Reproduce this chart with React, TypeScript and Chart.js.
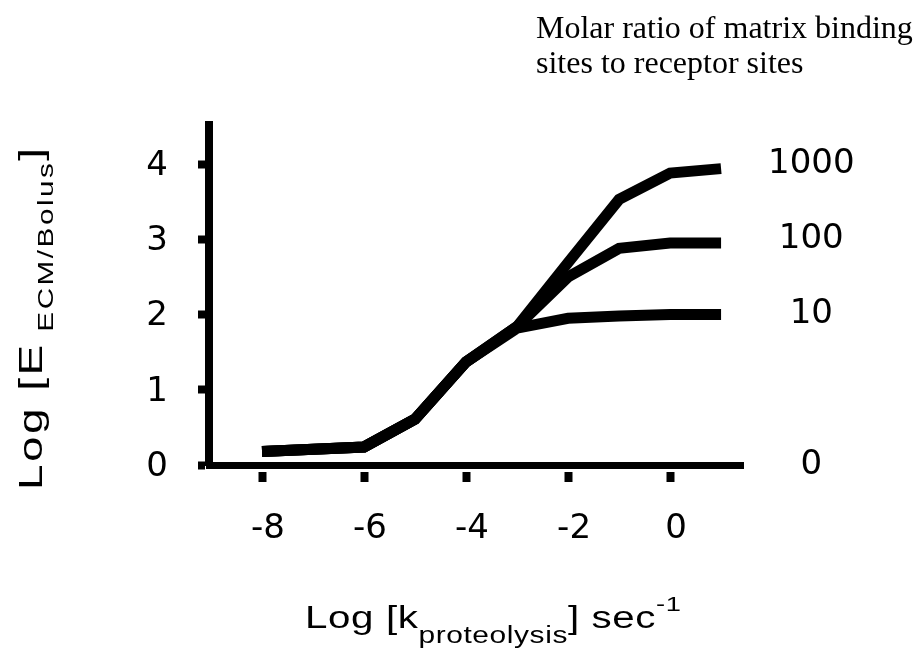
import React, { useEffect, useRef } from "react";
import { Chart, registerables } from "chart.js";

Chart.register(...registerables);

// ---- data ----
const X_VALUES = [-8, -6, -5, -4, -3, -2, -1, 0, 1];
const RATIO_1000 = [0.18, 0.24, 0.61, 1.37, 1.84, 2.69, 3.53, 3.88, 3.94];
const RATIO_100 = [0.18, 0.24, 0.61, 1.37, 1.84, 2.5, 2.88, 2.95, 2.95];
const RATIO_10 = [0.18, 0.24, 0.61, 1.37, 1.82, 1.95, 1.98, 2.0, 2.0];
const SERIES_NAMES = ["1000", "100", "10"];
const X_TICKS = [-8, -6, -4, -2, 0];
const Y_TICKS = [0, 1, 2, 3, 4];
const RATIO_LABELS = ["0", "10", "100", "1000"];
const RATIO_LABEL_LEVELS = [0, 2, 3, 4];
const X_MIN = -9.04;
const X_MAX = 1.43;
const Y_MIN = 0;
const Y_MAX = 4.52;

type Run = { text: string; size: number; dy: number };
const Y_TITLE_RUNS: Run[] = [
  { text: "Log [E", size: 34, dy: 0 },
  { text: " ECM/Bolus", size: 22, dy: 11 },
  { text: "]", size: 34, dy: 0 },
];
const X_TITLE_RUNS: Run[] = [
  { text: "Log [k", size: 31, dy: 0 },
  { text: "proteolysis", size: 23, dy: 15 },
  { text: "] sec", size: 31, dy: 0 },
  { text: "-1", size: 21, dy: -17 },
];
const NOTE_LINES = ["Molar ratio of matrix binding", "sites to receptor sites"];

const SANS = "'Liberation Sans', Arial, sans-serif";
const TICK_FONT = { family: "'DejaVu Sans', sans-serif", size: 34 };

function drawRuns(
  ctx: CanvasRenderingContext2D,
  runs: Run[],
  family: string,
  stretch: number,
  spacing: number,
  cx: number,
  baseY: number
) {
  const chars: { ch: string; size: number; dy: number; w: number }[] = [];
  runs.forEach((r) => {
    ctx.font = `${r.size}px ${family}`;
    for (const ch of r.text) {
      chars.push({ ch, size: r.size, dy: r.dy, w: ctx.measureText(ch).width });
    }
  });
  const total =
    chars.reduce((s, c) => s + c.w * stretch, 0) + spacing * (chars.length - 1);
  let x = cx - total / 2;
  chars.forEach((c) => {
    ctx.save();
    ctx.font = `${c.size}px ${family}`;
    ctx.translate(x, baseY + c.dy);
    ctx.scale(stretch, 1);
    ctx.fillText(c.ch, 0, 0);
    ctx.restore();
    x += c.w * stretch + spacing;
  });
}

const textPlugin = {
  id: "richTitles",
  afterDraw(chart: any) {
    const { ctx, chartArea: a } = chart;
    ctx.save();
    ctx.fillStyle = "#000";
    ctx.textBaseline = "alphabetic";
    ctx.textAlign = "left";

    // Y axis title (rotated)
    ctx.save();
    ctx.translate(a.left - 167, (a.top + a.bottom) / 2 + 24);
    ctx.rotate(-Math.PI / 2);
    drawRuns(ctx, Y_TITLE_RUNS, SANS, 1.35, 2.5, 0, 0);
    ctx.restore();

    // X axis title
    drawRuns(ctx, X_TITLE_RUNS, SANS, 1.3, 0.6, (a.left + a.right) / 2 + 17, a.bottom + 163);

    // Note at top right
    ctx.font = "32px 'Liberation Serif', 'Times New Roman', serif";
    NOTE_LINES.forEach((line, i) => {
      ctx.fillText(line, a.right - 207, a.top - 87 + i * 35);
    });
    ctx.restore();
  },
};

export default function App() {
  const ref = useRef<HTMLCanvasElement | null>(null);

  useEffect(() => {
    if (!ref.current) return;
    const series = [RATIO_1000, RATIO_100, RATIO_10];
    const chart = new Chart(ref.current, {
      type: "line",
      data: {
        datasets: series.map((vals, si) => ({
          label: SERIES_NAMES[si],
          data: X_VALUES.map((x, i) => ({ x, y: vals[i] })),
          borderColor: "#000",
          backgroundColor: "#000",
          borderWidth: 11,
          pointRadius: 0,
          tension: 0,
          fill: false,
        })),
      },
      options: {
        animation: false,
        responsive: false,
        devicePixelRatio: 1,
        layout: { padding: { left: 109, top: 125, right: 27, bottom: 96 } },
        plugins: {
          legend: { display: false },
          tooltip: { enabled: false },
          title: { display: false },
        },
        scales: {
          x: {
            type: "linear",
            position: "bottom",
            min: X_MIN,
            max: X_MAX,
            afterBuildTicks: (s: any) => {
              s.ticks = X_TICKS.map((v) => ({ value: v }));
            },
            afterFit: (s: any) => {
              s.height = 100;
            },
            border: { display: true, color: "#000", width: 7 },
            grid: {
              display: true,
              drawOnChartArea: false,
              drawTicks: true,
              tickLength: 17,
              tickWidth: 8,
              tickColor: "#000",
              tickBorderDash: [11, 3],
              tickBorderDashOffset: 11,
            },
            ticks: {
              color: "#000",
              font: TICK_FONT,
              padding: 27,
              labelOffset: 6,
              maxRotation: 0,
              autoSkip: false,
              callback: (v: any) => String(v),
            },
          },
          y: {
            type: "linear",
            position: "left",
            min: Y_MIN,
            max: Y_MAX,
            afterBuildTicks: (s: any) => {
              s.ticks = Y_TICKS.map((v) => ({ value: v }));
            },
            afterFit: (s: any) => {
              s.width = 100;
            },
            border: { display: true, color: "#000", width: 8 },
            grid: {
              display: true,
              drawOnChartArea: false,
              drawTicks: true,
              tickLength: 11,
              tickWidth: 8,
              tickColor: "#000",
            },
            ticks: {
              color: "#000",
              font: TICK_FONT,
              padding: 30,
              labelOffset: 2,
              callback: (v: any) => String(v),
            },
          },
          y2: {
            type: "linear",
            position: "right",
            min: Y_MIN,
            max: Y_MAX,
            afterBuildTicks: (s: any) => {
              s.ticks = RATIO_LABEL_LEVELS.map((v) => ({ value: v }));
            },
            afterFit: (s: any) => {
              s.width = 150;
            },
            border: { display: false },
            grid: { display: false },
            ticks: {
              color: "#000",
              font: TICK_FONT,
              padding: 17,
              crossAlign: "center",
              callback: (v: any) => {
                const i = RATIO_LABEL_LEVELS.indexOf(Number(v));
                return i >= 0 ? RATIO_LABELS[i] : "";
              },
            },
          },
        },
      },
      plugins: [textPlugin],
    } as any);
    return () => chart.destroy();
  }, []);

  return (
    <div
      style={{
        position: "fixed",
        left: 0,
        top: 0,
        width: 920,
        height: 661,
        background: "#fff",
      }}
    >
      <canvas ref={ref} width={920} height={661} style={{ display: "block" }} />
    </div>
  );
}
